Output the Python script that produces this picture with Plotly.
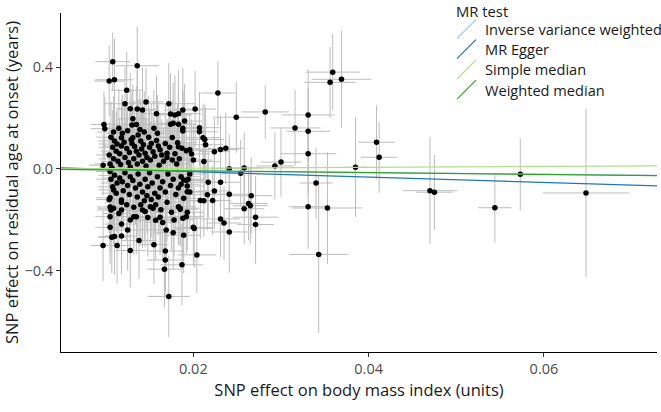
import plotly.graph_objects as go

# ---- SNP effects (exposure: BMI, outcome: residual age at onset) ----
bx_a = [0.0108, 0.0136, 0.0104, 0.0110, 0.0124, 0.0146, 0.0122, 0.0172, 0.0128, 0.0136,
        0.0142, 0.0158, 0.0131, 0.0130, 0.0135, 0.0174, 0.0179, 0.0183, 0.0188, 0.0098,
        0.0099, 0.0109, 0.0118, 0.0131, 0.0137, 0.0174, 0.0177, 0.0183, 0.0188, 0.0176,
        0.0182, 0.0183, 0.0170, 0.0097, 0.0105, 0.0228, 0.0249, 0.0282, 0.0202, 0.0190,
        0.0188, 0.0207, 0.0207, 0.0211, 0.0213, 0.0214, 0.0224, 0.0231, 0.0237, 0.0187,
        0.0196, 0.0192, 0.0198, 0.0212, 0.0241, 0.0258, 0.0293, 0.0300, 0.0316, 0.0331,
        0.0331, 0.0331, 0.0254, 0.0196, 0.0359, 0.0356, 0.0369, 0.0409, 0.0412, 0.0385,
        0.0340, 0.0331, 0.0353, 0.0343, 0.0470, 0.0475, 0.0544, 0.0573, 0.0648, 0.0217,
        0.0231, 0.0224, 0.0216, 0.0241, 0.0208, 0.0212, 0.0222, 0.0266, 0.0263, 0.0265,
        0.0258, 0.0271, 0.0271, 0.0231, 0.0235, 0.0241, 0.0200, 0.0201, 0.0204, 0.0187,
        0.0167, 0.0168, 0.0189, 0.0172, 0.0097, 0.0113, 0.0128, 0.0138, 0.0155, 0.0168,
        0.0105, 0.0118, 0.0107, 0.0110, 0.0125, 0.0118, 0.0132, 0.0135, 0.0162, 0.0157,
        0.0169, 0.0177, 0.0105, 0.0106, 0.0109, 0.0105, 0.0118, 0.0142, 0.0145, 0.0151,
        0.0154, 0.0105, 0.0118, 0.0109, 0.0183, 0.0185]
by_a = [0.421, 0.405, 0.345, 0.350, 0.309, 0.263, 0.256, 0.256, 0.236, 0.235,
        0.231, 0.217, 0.197, 0.173, 0.175, 0.216, 0.212, 0.217, 0.231, 0.175,
        0.158, 0.145, 0.123, 0.123, 0.133, 0.176, 0.179, 0.176, 0.149, 0.124,
        0.103, 0.087, 0.062, 0.015, 0.020, 0.298, 0.203, 0.224, 0.235, 0.188,
        0.160, 0.162, 0.146, 0.123, 0.116, 0.095, 0.068, 0.076, 0.081, 0.081,
        0.075, 0.072, 0.059, 0.029, 0.001, 0.004, 0.012, 0.027, 0.161, 0.212,
        0.148, 0.060, -0.017, -0.020, 0.380, 0.340, 0.352, 0.105, 0.046, 0.007,
        -0.055, -0.148, -0.153, -0.335, -0.085, -0.091, -0.152, -0.021, -0.094, -0.052,
        -0.052, -0.086, -0.101, -0.099, -0.124, -0.125, -0.124, -0.105, -0.135, -0.144,
        -0.156, -0.189, -0.218, -0.196, -0.212, -0.247, -0.229, -0.233, -0.337, -0.376,
        -0.393, -0.357, -0.260, -0.500, -0.300, -0.300, -0.320, -0.281, -0.297, -0.322,
        -0.229, -0.263, -0.268, -0.265, -0.239, -0.216, -0.187, -0.187, -0.189, -0.201,
        -0.239, -0.250, -0.187, -0.161, -0.154, -0.149, -0.161, -0.161, -0.167, -0.148,
        -0.154, -0.113, -0.122, -0.082, -0.148, -0.154]
sex_a = [0.0020, 0.0025, 0.0017, 0.0022, 0.0018, 0.0020, 0.0023, 0.0030, 0.0016, 0.0021,
         0.0019, 0.0024, 0.0018, 0.0020, 0.0017, 0.0022, 0.0020, 0.0026, 0.0021, 0.0015,
         0.0016, 0.0019, 0.0021, 0.0018, 0.0020, 0.0023, 0.0019, 0.0021, 0.0024, 0.0020,
         0.0022, 0.0018, 0.0021, 0.0016, 0.0018, 0.0020, 0.0026, 0.0027, 0.0024, 0.0020,
         0.0022, 0.0023, 0.0021, 0.0019, 0.0022, 0.0020, 0.0018, 0.0021, 0.0020, 0.0022,
         0.0019, 0.0021, 0.0020, 0.0018, 0.0020, 0.0022, 0.0021, 0.0023, 0.0029, 0.0030,
         0.0025, 0.0032, 0.0021, 0.0019, 0.0031, 0.0029, 0.0034, 0.0021, 0.0021, 0.0012,
         0.0019, 0.0022, 0.0040, 0.0034, 0.0031, 0.0021, 0.0019, 0.0010, 0.0049, 0.0020,
         0.0022, 0.0019, 0.0021, 0.0023, 0.0020, 0.0018, 0.0021, 0.0024, 0.0022, 0.0020,
         0.0023, 0.0026, 0.0021, 0.0022, 0.0020, 0.0021, 0.0023, 0.0020, 0.0022, 0.0024,
         0.0020, 0.0021, 0.0019, 0.0024, 0.0014, 0.0016, 0.0018, 0.0020, 0.0017, 0.0021,
         0.0017, 0.0019, 0.0016, 0.0018, 0.0020, 0.0019, 0.0021, 0.0018, 0.0022, 0.0020,
         0.0021, 0.0019, 0.0017, 0.0016, 0.0018, 0.0015, 0.0019, 0.0021, 0.0020, 0.0018,
         0.0022, 0.0016, 0.0019, 0.0017, 0.0020, 0.0022]
sey_a = [0.115, 0.155, 0.140, 0.160, 0.150, 0.135, 0.145, 0.160, 0.140, 0.150,
         0.165, 0.150, 0.135, 0.140, 0.150, 0.160, 0.155, 0.170, 0.165, 0.130,
         0.125, 0.140, 0.150, 0.145, 0.140, 0.150, 0.160, 0.155, 0.150, 0.145,
         0.150, 0.140, 0.135, 0.120, 0.130, 0.125, 0.140, 0.105, 0.150, 0.145,
         0.150, 0.140, 0.135, 0.130, 0.140, 0.145, 0.130, 0.135, 0.140, 0.150,
         0.145, 0.140, 0.135, 0.130, 0.135, 0.140, 0.130, 0.135, 0.150, 0.180,
         0.170, 0.160, 0.130, 0.125, 0.150, 0.140, 0.190, 0.145, 0.140, 0.195,
         0.140, 0.165, 0.220, 0.310, 0.210, 0.147, 0.137, 0.142, 0.330, 0.140,
         0.135, 0.150, 0.140, 0.145, 0.150, 0.140, 0.135, 0.150, 0.145, 0.150,
         0.140, 0.160, 0.155, 0.150, 0.145, 0.160, 0.150, 0.155, 0.150, 0.160,
         0.150, 0.145, 0.150, 0.160, 0.140, 0.150, 0.145, 0.150, 0.155, 0.150,
         0.145, 0.150, 0.140, 0.150, 0.160, 0.140, 0.150, 0.145, 0.150, 0.155,
         0.150, 0.145, 0.140, 0.135, 0.140, 0.130, 0.145, 0.150, 0.140, 0.145,
         0.150, 0.135, 0.140, 0.130, 0.150, 0.145]

bx_b = [0.0106, 0.0110, 0.0113, 0.0108, 0.0112, 0.0116, 0.0104, 0.0109, 0.0114, 0.0118,
        0.0121, 0.0124, 0.0127, 0.0122, 0.0126, 0.0130, 0.0133, 0.0129, 0.0135, 0.0138,
        0.0132, 0.0136, 0.0140, 0.0143, 0.0141, 0.0145, 0.0147, 0.0142, 0.0149, 0.0152,
        0.0150, 0.0154, 0.0156, 0.0151, 0.0158, 0.0160, 0.0162, 0.0159, 0.0164, 0.0166,
        0.0119, 0.0125, 0.0115, 0.0139, 0.0144, 0.0155, 0.0117, 0.0128, 0.0146, 0.0161,
        0.0107, 0.0170, 0.0168, 0.0173, 0.0179, 0.0176, 0.0184, 0.0181]
by_b = [0.125, 0.110, 0.098, 0.085, 0.070, 0.060, 0.055, 0.040, 0.030, 0.090,
        0.105, 0.080, 0.065, 0.045, 0.025, 0.100, 0.088, 0.115, 0.070, 0.055,
        0.040, 0.020, 0.110, 0.095, 0.078, 0.062, 0.045, 0.030, 0.125, 0.100,
        0.085, 0.068, 0.050, 0.035, 0.112, 0.090, 0.075, 0.140, 0.055, 0.030,
        0.140, 0.150, 0.160, 0.155, 0.145, 0.160, 0.018, 0.008, 0.012, 0.015,
        0.005, 0.045, 0.100, 0.085, 0.060, 0.035, 0.040, 0.020]
sex_b = [0.0017, 0.0019, 0.0021, 0.0016, 0.0018, 0.0020, 0.0015, 0.0017, 0.0019, 0.0021,
         0.0018, 0.0020, 0.0022, 0.0017, 0.0019, 0.0021, 0.0018, 0.0020, 0.0019, 0.0022,
         0.0017, 0.0020, 0.0021, 0.0018, 0.0020, 0.0022, 0.0019, 0.0017, 0.0021, 0.0020,
         0.0018, 0.0022, 0.0020, 0.0019, 0.0021, 0.0018, 0.0023, 0.0020, 0.0019, 0.0021,
         0.0018, 0.0020, 0.0017, 0.0019, 0.0021, 0.0020, 0.0016, 0.0018, 0.0020, 0.0022,
         0.0015, 0.0021, 0.0020, 0.0019, 0.0022, 0.0020, 0.0021, 0.0019]
sey_b = [0.140, 0.150, 0.135, 0.145, 0.155, 0.140, 0.130, 0.150, 0.145, 0.160,
         0.150, 0.140, 0.155, 0.145, 0.135, 0.160, 0.150, 0.145, 0.140, 0.155,
         0.150, 0.135, 0.165, 0.150, 0.145, 0.140, 0.150, 0.135, 0.160, 0.155,
         0.150, 0.145, 0.140, 0.150, 0.155, 0.160, 0.145, 0.150, 0.140, 0.135,
         0.150, 0.145, 0.155, 0.150, 0.160, 0.150, 0.130, 0.140, 0.145, 0.150,
         0.125, 0.145, 0.155, 0.150, 0.140, 0.145, 0.150, 0.140]

bx_c = [0.0105, 0.0110, 0.0106, 0.0113, 0.0108, 0.0116, 0.0119, 0.0122, 0.0125, 0.0120,
        0.0128, 0.0131, 0.0127, 0.0134, 0.0137, 0.0139, 0.0142, 0.0136, 0.0145, 0.0148,
        0.0144, 0.0150, 0.0153, 0.0156, 0.0152, 0.0159, 0.0162, 0.0165, 0.0160, 0.0168,
        0.0171, 0.0174, 0.0170, 0.0177, 0.0180, 0.0183, 0.0186, 0.0189, 0.0112, 0.0118,
        0.0124, 0.0132, 0.0140, 0.0147, 0.0157, 0.0163, 0.0175, 0.0186, 0.0192, 0.0196,
        0.0115, 0.0128, 0.0148, 0.0165, 0.0178, 0.0104, 0.0189, 0.0194, 0.0193, 0.0193,
        0.0185, 0.0193, 0.0188, 0.0192, 0.0200]
by_c = [-0.010, -0.025, -0.040, -0.055, -0.070, -0.035, -0.050, -0.015, -0.065, -0.085,
        -0.030, -0.045, -0.100, -0.075, -0.020, -0.060, -0.090, -0.110, -0.040, -0.070,
        -0.125, -0.015, -0.055, -0.095, -0.120, -0.030, -0.075, -0.050, -0.110, -0.090,
        -0.020, -0.065, -0.130, -0.040, -0.100, -0.075, -0.030, -0.115, -0.095, -0.130,
        -0.140, -0.150, -0.140, -0.105, -0.140, -0.160, -0.170, -0.060, -0.045, -0.090,
        -0.175, -0.200, -0.190, -0.210, -0.200, -0.120, -0.043, -0.040, -0.067, -0.089,
        -0.158, -0.170, -0.193, -0.187, 0.035]
sex_c = [0.0016, 0.0018, 0.0017, 0.0019, 0.0016, 0.0020, 0.0018, 0.0021, 0.0019, 0.0017,
         0.0020, 0.0022, 0.0018, 0.0020, 0.0019, 0.0021, 0.0018, 0.0020, 0.0022, 0.0019,
         0.0021, 0.0018, 0.0020, 0.0022, 0.0019, 0.0021, 0.0020, 0.0018, 0.0022, 0.0020,
         0.0019, 0.0021, 0.0023, 0.0020, 0.0022, 0.0019, 0.0021, 0.0020, 0.0017, 0.0019,
         0.0020, 0.0018, 0.0021, 0.0020, 0.0019, 0.0022, 0.0020, 0.0021, 0.0019, 0.0022,
         0.0018, 0.0020, 0.0021, 0.0019, 0.0022, 0.0015, 0.0020, 0.0021, 0.0019, 0.0022,
         0.0020, 0.0018, 0.0021, 0.0020, 0.0022]
sey_c = [0.135, 0.145, 0.150, 0.140, 0.155, 0.150, 0.145, 0.140, 0.160, 0.150,
         0.145, 0.155, 0.150, 0.140, 0.145, 0.150, 0.160, 0.145, 0.150, 0.140,
         0.155, 0.145, 0.150, 0.160, 0.150, 0.140, 0.155, 0.145, 0.150, 0.160,
         0.140, 0.150, 0.155, 0.145, 0.150, 0.140, 0.145, 0.155, 0.150, 0.145,
         0.140, 0.150, 0.155, 0.145, 0.150, 0.160, 0.150, 0.140, 0.145, 0.150,
         0.140, 0.150, 0.155, 0.150, 0.145, 0.135, 0.150, 0.145, 0.140, 0.150,
         0.145, 0.150, 0.155, 0.150, 0.140]

bx = bx_a + bx_b + bx_c
by = by_a + by_b + by_c
se_x = sex_a + sex_b + sex_c
se_y = sey_a + sey_b + sey_c

# ---- MR estimates (intercept, slope) ----
methods = ["Inverse variance weighted", "MR Egger", "Simple median", "Weighted median"]
intercepts = [0.0, 0.010, 0.0, 0.0]
slopes = [-0.34, -1.05, 0.17, -0.36]
colors = ["#a6cee3", "#1f78b4", "#b2df8a", "#33a02c"]
legend_title = "MR test"

x_range = [0.0049, 0.0729]
y_range = [-0.718, 0.612]
x_ticks = [0.02, 0.04, 0.06]
x_ticktext = ["0.02", "0.04", "0.06"]
y_ticks = [-0.4, 0.0, 0.4]
y_ticktext = ["\u22120.4", "0.0", "0.4"]

# figure geometry (pixels)
W, H = 661, 412
ML, MR, MT, MB = 61, 4, 13, 60
PW, PH = W - ML - MR, H - MT - MB


def px_x(p):
    return (p - ML) / PW


def px_y(p):
    return (H - MB - p) / PH


fig = go.Figure()
fig.add_trace(go.Scatter(
    x=bx, y=by, mode="markers",
    marker=dict(color="black", size=5.5),
    error_x=dict(type="data", array=se_x, color="#bdbdbd", thickness=1, width=0),
    error_y=dict(type="data", array=se_y, color="#bdbdbd", thickness=1, width=0),
    showlegend=False, hoverinfo="skip",
))
for name, a, b, c in zip(methods, intercepts, slopes, colors):
    fig.add_trace(go.Scatter(
        x=x_range, y=[a + b * x_range[0], a + b * x_range[1]],
        mode="lines", line=dict(color=c, width=1.2), name=name, showlegend=False,
    ))

# ggplot-style legend: title, diagonal line keys and labels
font_family = "Open Sans, Noto Sans, DejaVu Sans, sans-serif"
annotations = [dict(
    text=legend_title, xref="paper", yref="paper", x=px_x(455), y=px_y(0),
    xanchor="left", yanchor="top", showarrow=False, borderpad=0,
    font=dict(size=14.8, color="#1a1a1a", family=font_family),
)]
shapes = []
row_centers = [29.0, 49.2, 69.4, 89.6]
for name, c, yc in zip(methods, colors, row_centers):
    annotations.append(dict(
        text=name, xref="paper", yref="paper", x=px_x(483), y=px_y(yc),
        xanchor="left", yanchor="middle", showarrow=False,
        font=dict(size=14.6, color="#1a1a1a", family=font_family),
    ))
    shapes.append(dict(
        type="line", xref="paper", yref="paper",
        x0=px_x(457), y0=px_y(yc + 9.5), x1=px_x(476), y1=px_y(yc - 9.5),
        line=dict(color=c, width=1.2),
    ))

fig.update_layout(
    width=W, height=H,
    margin=dict(l=ML, r=MR, t=MT, b=MB, autoexpand=False),
    paper_bgcolor="white", plot_bgcolor="white",
    font=dict(family=font_family, size=15, color="#1a1a1a"),
    showlegend=False,
    annotations=annotations,
    shapes=shapes,
    xaxis=dict(
        range=x_range, tickvals=x_ticks, ticktext=x_ticktext,
        showgrid=False, zeroline=False, showline=True, linecolor="black", linewidth=1,
        ticks="outside", ticklen=4, tickcolor="#333333",
        tickfont=dict(size=14.5, color="#4d4d4d"),
        title=dict(text="SNP effect on body mass index (units)", standoff=5,
                   font=dict(size=16.5, color="#1a1a1a")),
    ),
    yaxis=dict(
        range=y_range, tickvals=y_ticks, ticktext=y_ticktext,
        showgrid=False, zeroline=False, showline=True, linecolor="black", linewidth=1,
        ticks="outside", ticklen=4, tickcolor="#333333",
        tickfont=dict(size=14.5, color="#4d4d4d"),
        title=dict(text="SNP effect on residual age at onset (years)", standoff=5,
                   font=dict(size=16.5, color="#1a1a1a")),
    ),
)

fig.write_html(
    "out.html",
    config={"displayModeBar": False},
    post_script="document.body.style.margin='0';document.body.style.overflow='hidden';",
)
